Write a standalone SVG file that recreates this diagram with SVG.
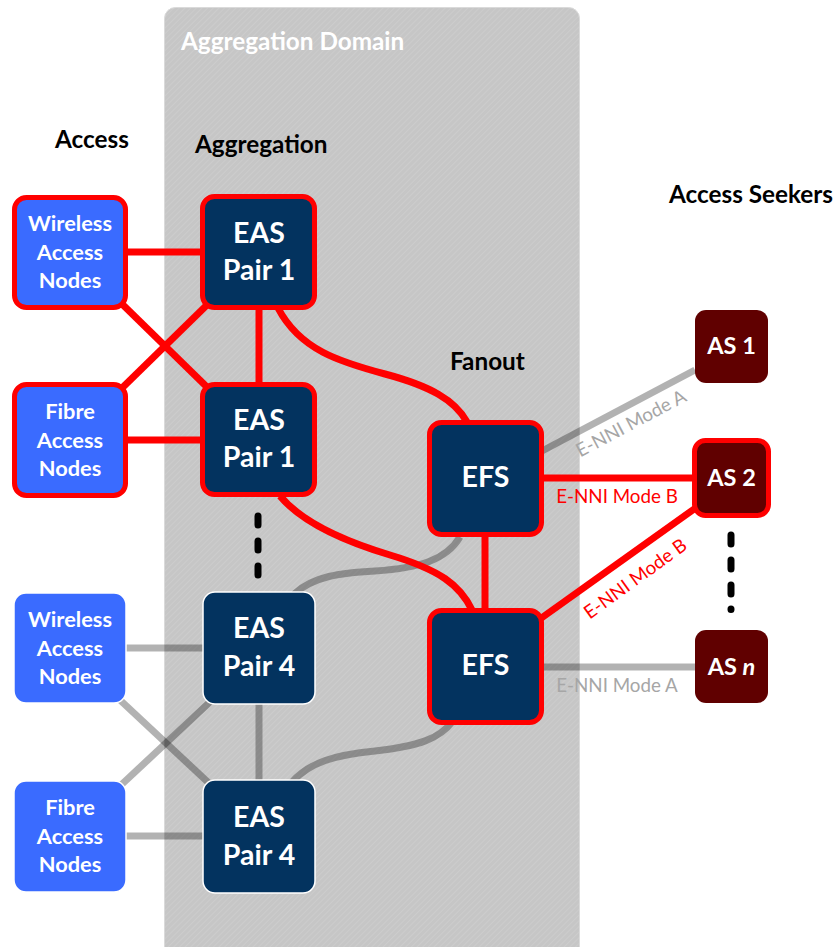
<svg xmlns="http://www.w3.org/2000/svg" width="838" height="947" viewBox="0 0 838 947">
<defs>
<pattern id="hatch" width="4" height="4" patternUnits="userSpaceOnUse" patternTransform="rotate(45)">
<rect width="4" height="4" fill="#c6c6c6"/>
<line x1="0" y1="0" x2="0" y2="4" stroke="#cecece" stroke-width="1.5"/>
</pattern>
<style>
.hdr{font-family:Lato,"Open Sans","Liberation Sans",sans-serif;font-weight:bold;fill:#000;font-size:24.3px}
.nt{font-family:Lato,"Open Sans","Liberation Sans",sans-serif;font-weight:bold;fill:#fff;text-anchor:middle}
.acc{font-size:21.8px}
.big{font-size:28.5px}
.as{font-size:23.5px}
.lbl{font-family:Lato,"Open Sans","Liberation Sans",sans-serif;font-size:18.8px}
.red{stroke:#ff0000;stroke-width:7;fill:none}
.gry{stroke:#000;stroke-opacity:0.3;stroke-width:7;fill:none}
.accbox{fill:#3a6bff}
.navy{fill:#03335f}
.maroon{fill:#600000}
.rb{stroke:#ff0000;stroke-width:5}
.wb{stroke:#fff;stroke-width:1.5}
.dots{stroke:#000;stroke-width:7;stroke-linecap:round;fill:none}
</style>
</defs>
<rect width="838" height="947" fill="#fff"/>
<g id="domain">
<rect x="164.5" y="7.5" width="415" height="960" rx="11" fill="url(#hatch)" stroke="#dadada" stroke-width="1"/>
<text x="181" y="50" class="hdr" style="fill:#fff">Aggregation Domain</text>
</g>
<g id="headers">
<text x="55" y="148" class="hdr">Access</text>
<text x="195" y="153" class="hdr">Aggregation</text>
<text x="450" y="370" class="hdr">Fanout</text>
<text x="669" y="203" class="hdr">Access Seekers</text>
</g>
<g id="connectors">
<line class="gry" x1="126" y1="648" x2="203" y2="648"/>
<line class="gry" x1="126" y1="836" x2="203" y2="836"/>
<line class="gry" x1="120" y1="700" x2="212" y2="786"/>
<line class="gry" x1="120" y1="786" x2="212" y2="700"/>
<line class="gry" x1="259" y1="704" x2="259" y2="780"/>
<path class="gry" d="M294,594 C314,576 340,573 375,571 C420,568 446,560 460,537"/>
<path class="gry" d="M292,782 C310,762 335,755 375,751 C420,746 440,738 452,722"/>
<line class="gry" x1="542" y1="451" x2="695" y2="370"/>
<line class="gry" x1="542" y1="667" x2="695" y2="667"/>
<line class="red" x1="126" y1="252" x2="202" y2="252"/>
<line class="red" x1="126" y1="440" x2="202" y2="440"/>
<line class="red" x1="120" y1="302" x2="210" y2="390"/>
<line class="red" x1="120" y1="390" x2="210" y2="302"/>
<line class="red" x1="259" y1="308" x2="259" y2="384"/>
<path class="red" d="M278,308 C300,350 340,362 385,374 C430,386 455,400 467,422"/>
<path class="red" d="M280,496 C300,520 340,540 390,555 C440,570 460,585 472,610"/>
<line class="red" x1="485" y1="535" x2="485" y2="610"/>
<line class="red" x1="542" y1="478" x2="694" y2="478"/>
<line class="red" x1="540" y1="619" x2="697" y2="507"/>
<text class="lbl" x="0" y="0" fill="#a6a6a6" text-anchor="middle" transform="translate(634,429) rotate(-28)">E-NNI Mode A</text>
<text class="lbl" x="617" y="503" fill="#ff0000" text-anchor="middle">E-NNI Mode B</text>
<text class="lbl" x="0" y="0" fill="#ff0000" text-anchor="middle" transform="translate(639,584) rotate(-36)">E-NNI Mode B</text>
<text class="lbl" x="617" y="692" fill="#a6a6a6" text-anchor="middle">E-NNI Mode A</text>
</g>
<g id="dots-left">
<path class="dots" d="M258,516 v9 M258,541 v9 M258,566 v9"/>
</g>
<g id="dots-right">
<path class="dots" d="M731,535 v9 M731,560 v9 M731,585 v9 M731,609 v0.5"/>
</g>
<g id="wireless1">
<rect class="accbox rb" x="14.5" y="197.5" width="111" height="110" rx="12"/>
<text class="nt acc" x="70" y="231">Wireless</text>
<text class="nt acc" x="70" y="260">Access</text>
<text class="nt acc" x="70" y="288">Nodes</text>
</g>
<g id="fibre1">
<rect class="accbox rb" x="14.5" y="384.5" width="111" height="111" rx="12"/>
<text class="nt acc" x="70" y="419">Fibre</text>
<text class="nt acc" x="70" y="448">Access</text>
<text class="nt acc" x="70" y="476">Nodes</text>
</g>
<g id="wireless2">
<rect class="accbox wb" x="14" y="593" width="112" height="110" rx="12"/>
<text class="nt acc" x="70" y="627">Wireless</text>
<text class="nt acc" x="70" y="656">Access</text>
<text class="nt acc" x="70" y="684">Nodes</text>
</g>
<g id="fibre2">
<rect class="accbox wb" x="14" y="781" width="112" height="111" rx="12"/>
<text class="nt acc" x="70" y="815">Fibre</text>
<text class="nt acc" x="70" y="844">Access</text>
<text class="nt acc" x="70" y="872">Nodes</text>
</g>
<g id="eas1a">
<rect class="navy rb" x="202.5" y="196.5" width="112" height="111" rx="12"/>
<text class="nt big" x="259" y="243">EAS</text>
<text class="nt big" x="259" y="280">Pair 1</text>
</g>
<g id="eas1b">
<rect class="navy rb" x="202.5" y="384.5" width="112" height="110" rx="12"/>
<text class="nt big" x="259" y="430">EAS</text>
<text class="nt big" x="259" y="467">Pair 1</text>
</g>
<g id="eas4a">
<rect class="navy wb" x="203" y="592" width="112" height="112" rx="12"/>
<text class="nt big" x="259" y="638">EAS</text>
<text class="nt big" x="259" y="676">Pair 4</text>
</g>
<g id="eas4b">
<rect class="navy wb" x="203" y="780" width="112" height="113" rx="12"/>
<text class="nt big" x="259" y="827">EAS</text>
<text class="nt big" x="259" y="865">Pair 4</text>
</g>
<g id="efs1">
<rect class="navy rb" x="429.5" y="422.5" width="112" height="112" rx="12"/>
<text class="nt big" x="485.5" y="487">EFS</text>
</g>
<g id="efs2">
<rect class="navy rb" x="429.5" y="610.5" width="112" height="112" rx="12"/>
<text class="nt big" x="485.5" y="675">EFS</text>
</g>
<g id="as1">
<rect class="maroon" x="695" y="310" width="73" height="73" rx="11"/>
<text class="nt as" x="731.5" y="354">AS 1</text>
</g>
<g id="as2">
<rect class="maroon rb" x="694.5" y="440.5" width="74" height="75" rx="11"/>
<text class="nt as" x="731.5" y="486">AS 2</text>
</g>
<g id="asn">
<rect class="maroon" x="695" y="630" width="73" height="73" rx="11"/>
<text class="nt as" x="731.5" y="675">AS <tspan font-style="italic">n</tspan></text>
</g>
</svg>
